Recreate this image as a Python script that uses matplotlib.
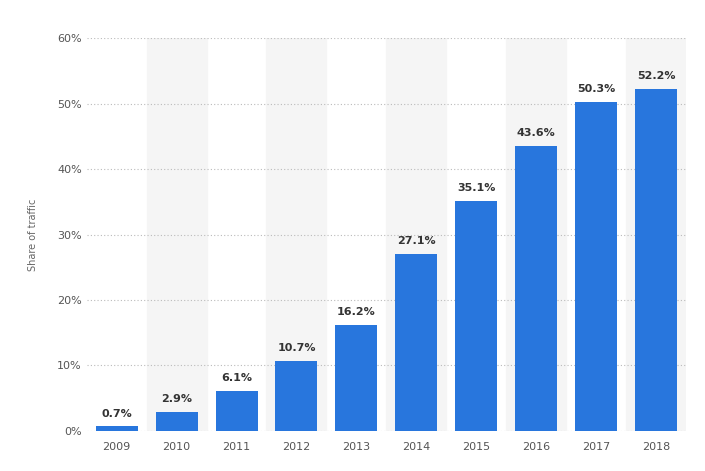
import matplotlib.pyplot as plt
import numpy as np

years = ["2009", "2010", "2011", "2012", "2013", "2014", "2015", "2016", "2017", "2018"]
share = [0.7, 2.9, 6.1, 10.7, 16.2, 27.1, 35.1, 43.6, 50.3, 52.2]
yticks = [0, 10, 20, 30, 40, 50, 60]

fig = plt.figure(figsize=(7.05, 4.71), dpi=100)
ax = fig.add_axes([0.123, 0.085, 0.850, 0.834])

x = np.arange(len(years))
for i in x:
    if i % 2 == 1:
        ax.axvspan(i - 0.5, i + 0.5, color="#f5f5f5", zorder=0)

ax.bar(x, share, width=0.7, color="#2876dd", zorder=3)
for xi, v in zip(x, share):
    ax.text(xi, v + 1.2, f"{v}%", ha="center", va="bottom", fontsize=8,
            fontweight="bold", color="#333333", zorder=4)

ax.set_xlim(-0.5, len(years) - 0.5)
ax.set_ylim(0, 60)
ax.set_yticks(yticks)
ax.set_yticklabels([f"{t}%" for t in yticks])
ax.set_xticks(x)
ax.set_xticklabels(years)
ax.yaxis.grid(True, linestyle=(0, (1, 2)), color="#bbbbbb", linewidth=0.8, zorder=1)
ax.tick_params(axis="both", length=0, labelsize=8, colors="#555555")
ax.tick_params(axis="x", pad=8)
for s in ax.spines.values():
    s.set_visible(False)
ax.set_ylabel("Share of traffic", fontsize=7, color="#666666", labelpad=14)

fig.savefig("out.png", dpi=100)
